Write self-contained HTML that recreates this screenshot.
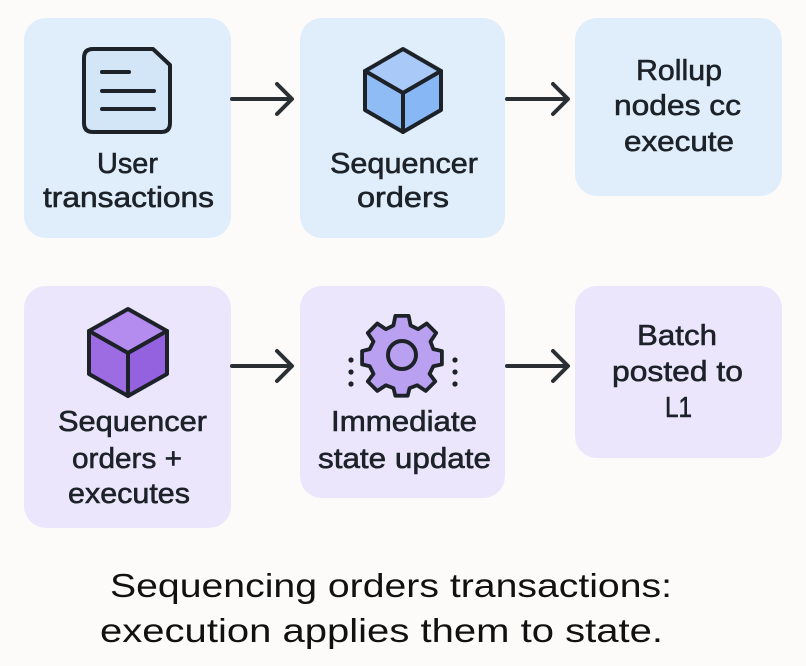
<!DOCTYPE html>
<html><head><meta charset="utf-8"><style>
html,body{margin:0;padding:0;background:#fcfbfa;}
svg{display:block}
text{font-family:"Liberation Sans",sans-serif;fill:#1c2228;}
.l{font-size:29px;stroke:#1c2228;stroke-width:0.6;}
.c{font-size:33px;fill:#111;}
</style></head><body>
<svg width="806" height="666" viewBox="0 0 806 666" xmlns="http://www.w3.org/2000/svg">
<rect width="806" height="666" fill="#fcfbfa"/>
<rect x="24" y="18" width="207" height="220" rx="22" fill="#e0eefb"/>
<rect x="300" y="18" width="205" height="220" rx="22" fill="#e0eefb"/>
<rect x="575" y="18" width="207" height="178" rx="22" fill="#e0eefb"/>
<rect x="24" y="286" width="207" height="242" rx="22" fill="#ece6fc"/>
<rect x="300" y="286" width="205" height="212" rx="22" fill="#ece6fc"/>
<rect x="575" y="286" width="207" height="172" rx="22" fill="#ece6fc"/>
<g stroke="#2a2f33" stroke-width="4" fill="none" stroke-linecap="round" stroke-linejoin="round">
<line x1="232" y1="99" x2="291" y2="99"/><polyline points="277,84 292,99 277,114"/>
<line x1="507" y1="99" x2="567" y2="99"/><polyline points="553,84 568,99 553,114"/>
<line x1="232" y1="366" x2="291" y2="366"/><polyline points="277,351 292,366 277,381"/>
<line x1="507" y1="366" x2="567" y2="366"/><polyline points="553,351 568,366 553,381"/>
</g>
<g stroke="#1c2228" stroke-width="4" fill="none" stroke-linecap="round" stroke-linejoin="round">
<path d="M93,49 H153 L170,65 V123 Q170,132 161,132 H93 Q84,132 84,123 V58 Q84,49 93,49 Z" fill="#d3e6f7"/>
<line x1="102" y1="72" x2="129" y2="72"/>
<line x1="102" y1="91" x2="154" y2="91"/>
<line x1="102" y1="109" x2="154" y2="109"/>
</g>
<g stroke="#1c2228" stroke-width="4" stroke-linejoin="round">
<polygon points="403,49 441,71 403,93 365,71" fill="#a9c9f8"/>
<polygon points="365,71 403,93 403,132 365,110" fill="#8fbcf5"/>
<polygon points="441,71 403,93 403,132 441,110" fill="#87b7f4"/>
</g>
<g stroke="#1c2228" stroke-width="4" stroke-linejoin="round">
<polygon points="128,309 167,331 128,353 89,331" fill="#b48cf0"/>
<polygon points="89,331 128,353 128,396 89,374" fill="#9d6ce3"/>
<polygon points="167,331 128,353 128,396 167,374" fill="#9462de"/>
</g>
<g transform="translate(402,356)" stroke="#1c2228" stroke-width="4" stroke-linejoin="round">
<path fill="#b9a0f0" d="M-7,-38 H7 L9,-28 L17,-24 L26,-30 L36,-20 L30,-11 L33,-3 L42,-1 V13 L33,15 L29,23 L35,31 L25,41 L16,35 L8,38 L6,46 H-7 L-9,38 L-17,35 L-26,41 L-36,31 L-30,23 L-34,15 L-42,13 V-1 L-34,-3 L-30,-11 L-36,-20 L-26,-30 L-17,-24 L-9,-28 Z" transform="translate(0,-4) scale(0.95)"/>
<circle cx="0" cy="-1" r="14" fill="#b9a0f0"/>
</g>
<g fill="#1c2228">
<circle cx="351" cy="360" r="2.6"/><circle cx="351" cy="372" r="2.6"/><circle cx="351" cy="384" r="2.6"/>
<circle cx="455" cy="360" r="2.6"/><circle cx="455" cy="372" r="2.6"/><circle cx="455" cy="384" r="2.6"/>
</g>
<text class="l" x="97" y="173" textLength="61" lengthAdjust="spacingAndGlyphs">User</text>
<text class="l" x="43" y="207" textLength="171" lengthAdjust="spacingAndGlyphs">transactions</text>
<text class="l" x="330" y="173" textLength="148" lengthAdjust="spacingAndGlyphs">Sequencer</text>
<text class="l" x="357" y="207" textLength="92" lengthAdjust="spacingAndGlyphs">orders</text>
<text class="l" x="636" y="80" textLength="86" lengthAdjust="spacingAndGlyphs">Rollup</text>
<text class="l" x="614" y="115" textLength="127" lengthAdjust="spacingAndGlyphs">nodes cc</text>
<text class="l" x="624" y="151" textLength="110" lengthAdjust="spacingAndGlyphs">execute</text>
<text class="l" x="58" y="431" textLength="149" lengthAdjust="spacingAndGlyphs">Sequencer</text>
<text class="l" x="72" y="468" textLength="110" lengthAdjust="spacingAndGlyphs">orders +</text>
<text class="l" x="68" y="503" textLength="122" lengthAdjust="spacingAndGlyphs">executes</text>
<text class="l" x="331" y="431" textLength="146" lengthAdjust="spacingAndGlyphs">Immediate</text>
<text class="l" x="318" y="468" textLength="173" lengthAdjust="spacingAndGlyphs">state update</text>
<text class="l" x="637" y="345" textLength="80" lengthAdjust="spacingAndGlyphs">Batch</text>
<text class="l" x="612" y="381" textLength="131" lengthAdjust="spacingAndGlyphs">posted to</text>
<text class="l" x="665" y="417" textLength="27" lengthAdjust="spacingAndGlyphs">L1</text>
<text class="c" x="110" y="597" textLength="562" lengthAdjust="spacingAndGlyphs">Sequencing orders transactions:</text>
<text class="c" x="100" y="642" textLength="563" lengthAdjust="spacingAndGlyphs">execution applies them to state.</text>
</svg>
</body></html>
